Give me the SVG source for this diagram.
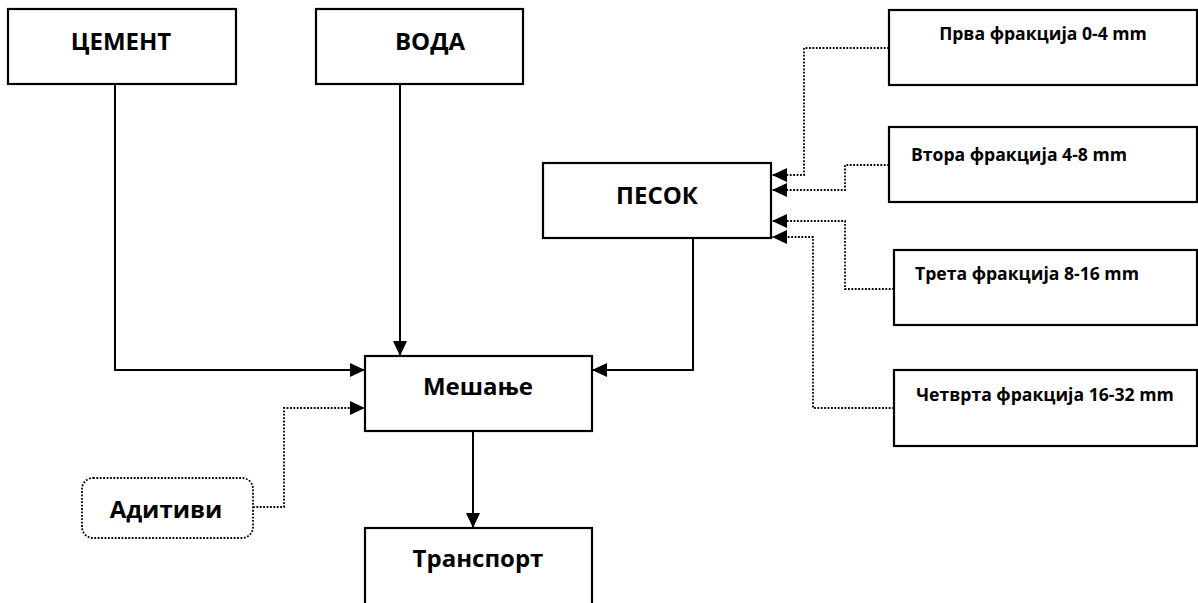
<svg xmlns="http://www.w3.org/2000/svg" width="1198" height="603" viewBox="0 0 1198 603">
<defs>
<marker id="ah" markerUnits="userSpaceOnUse" markerWidth="15" markerHeight="14" refX="15" refY="7" orient="auto">
<path d="M0,0 L15,7 L0,14 z" fill="#000"/>
</marker>
</defs>
<style>
.box{fill:#fff;stroke:#000;stroke-width:2.2}
.dbox{fill:#fff;stroke:#000;stroke-width:1.8;stroke-dasharray:1.8 1.6}
.t{font-family:"Open Sans","Noto Sans",sans-serif;font-weight:bold;fill:#000}
.big{font-size:24px}
.sm{font-size:17.6px}
.c{fill:none;stroke:#000;stroke-width:2}
.d{fill:none;stroke:#000;stroke-width:1.8;stroke-dasharray:1.8 1.6}
</style>
<rect width="1198" height="603" fill="#fff"/>
<g id="connectors">
<path class="c" d="M115,84 V370 H365" marker-end="url(#ah)"/>
<path class="c" d="M400,84 V356" marker-end="url(#ah)"/>
<path class="c" d="M693,238 V370 H592" marker-end="url(#ah)"/>
<path class="c" d="M473,431 V528" marker-end="url(#ah)"/>
<path class="d" d="M253,507 H284 V408 H365" marker-end="url(#ah)"/>
<path class="d" d="M889,48 H804 V175 H772" marker-end="url(#ah)"/>
<path class="d" d="M889,165 H845 V190 H772" marker-end="url(#ah)"/>
<path class="d" d="M894,289 H845 V221 H772" marker-end="url(#ah)"/>
<path class="d" d="M894,408 H813 V237 H772" marker-end="url(#ah)"/>
</g>
<g id="cement">
<rect class="box" x="8" y="9" width="228" height="75"/>
<text class="t big" x="121" y="50" text-anchor="middle">ЦЕМЕНТ</text>
</g>
<g id="voda">
<rect class="box" x="316" y="9" width="207" height="75"/>
<text class="t big" x="430" y="50" text-anchor="middle">ВОДА</text>
</g>
<g id="frac1">
<rect class="box" x="889" y="10" width="308" height="75"/>
<text class="t sm" x="1043" y="40" text-anchor="middle">Прва фракција 0-4 mm</text>
</g>
<g id="frac2">
<rect class="box" x="889" y="127" width="308" height="75"/>
<text class="t sm" x="911" y="161">Втора фракција 4-8 mm</text>
</g>
<g id="frac3">
<rect class="box" x="894" y="250" width="303" height="75"/>
<text class="t sm" x="915" y="280">Трета фракција 8-16 mm</text>
</g>
<g id="frac4">
<rect class="box" x="894" y="370" width="303" height="76"/>
<text class="t sm" x="1045" y="401" text-anchor="middle">Четврта фракција 16-32 mm</text>
</g>
<g id="pesok">
<rect class="box" x="543" y="163" width="228" height="75"/>
<text class="t big" x="657" y="204" text-anchor="middle">ПЕСОК</text>
</g>
<g id="meshanje">
<rect class="box" x="365" y="356" width="227" height="75"/>
<text class="t big" x="478" y="395" text-anchor="middle">Мешање</text>
</g>
<g id="aditivi">
<rect class="dbox" x="82" y="478" width="171" height="60" rx="11" ry="11"/>
<text class="t big" x="166" y="518" text-anchor="middle">Адитиви</text>
</g>
<g id="transport">
<rect class="box" x="365" y="528" width="227" height="80"/>
<text class="t big" x="478" y="567" text-anchor="middle">Транспорт</text>
</g>
</svg>
